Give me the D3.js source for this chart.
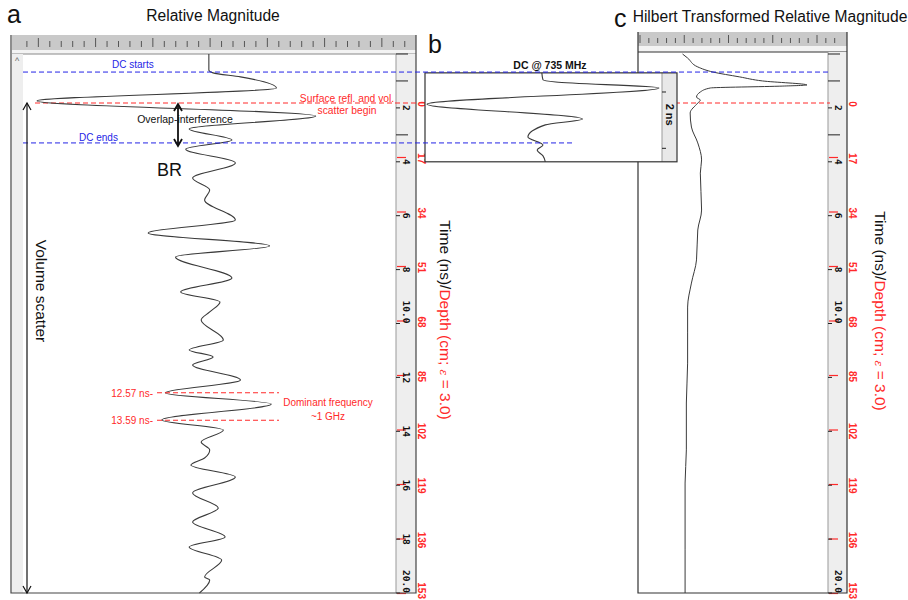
<!DOCTYPE html>
<html>
<head>
<meta charset="utf-8">
<script src="https://cdn.jsdelivr.net/npm/d3@7"></script>
<style>
body { margin: 0; background: #fff; }
svg { display: block; font-family: "Liberation Sans", Arial, sans-serif; }
</style>
</head>
<body>
<svg id="canvas"></svg>
<script>
// Panel a: relative magnitude trace (time in ns, relative amplitude)
const traceATime = [0, 0.59, 0.70, 0.85, 1.26, 1.74, 2.30, 2.78, 3.19, 3.53, 4.04, 4.60, 5.05, 5.42, 6.16, 6.64, 7.12, 7.53, 8.31, 8.83, 9.20, 9.57, 9.87, 10.61, 10.98, 11.24, 11.54, 12.10, 12.58, 12.99, 13.58, 13.95, 14.40, 14.69, 14.99, 15.25, 15.70, 16.29, 16.85, 17.37, 17.92, 18.29, 18.78, 19.41, 19.52, 20.00];
const traceAAmp = [0.005, 0.005, 0.03, 0.19, 0.40, -1.00, 0.63, -0.11, 0.14, -0.13, 0.16, -0.09, 0.01, -0.02, 0.16, -0.35, 0.36, -0.19, 0.14, -0.16, 0.07, 0.01, -0.04, 0.09, -0.11, 0.03, -0.09, 0.19, -0.25, 0.37, -0.27, 0.09, -0.04, 0.01, -0.02, -0.10, 0.16, -0.09, 0.06, -0.09, 0.10, -0.11, 0.08, -0.02, 0.01, -0.05];

// Panel b: DC @ 735 MHz inset
const traceBTime = [0.70, 0.96, 1.04, 1.26, 1.86, 2.41, 2.63, 3.08, 3.38, 3.56, 3.78, 4.00];
const traceBAmp = [-0.01, 0.0, 0.11, 1.0, -1.0, 0.34, 0.02, -0.13, 0.0, -0.05, 0.0, 0.02];

// Panel c: Hilbert transformed magnitude
const traceCTime = [0, 0.15, 0.48, 0.67, 0.85, 1.00, 1.15, 1.19, 1.26, 1.41, 1.60, 1.71, 1.82, 2.19, 2.71, 3.30, 3.93, 4.42, 5.79, 6.53, 7.64, 8.50, 9.39, 10.35, 11.47, 12.95, 14.69, 15.92, 18.40, 20.00];
const traceCAmp = [0.02, 0.06, 0.14, 0.26, 0.47, 0.65, 1.00, 0.81, 0.24, 0.16, 0.13, 0.16, 0.14, 0.08, 0.09, 0.14, 0.17, 0.16, 0.17, 0.14, 0.13, 0.09, 0.06, 0.06, 0.06, 0.05, 0.05, 0.04, 0.04, 0.04];

// Axis ticks
const timeTicks = [2, 4, 6, 8, 10, 12, 14, 16, 18, 20];
const timeTickLabels = ["2", "4", "6", "8", "10.0", "12", "14", "16", "18", "20.0"];
const timeTicksLabelledC = [2, 4, 6, 8, 10, 20];
const longTimeTicks = [0, 1, 3];
const depthTicks = [0, 17, 34, 51, 68, 85, 102, 119, 136, 153];

// Annotation times (ns)
const dcStart = 0.67, dcEnd = 3.30;
const dominantTimes = [12.57, 13.59];

const width = 908;
const height = 600;

const svg = d3.select("#canvas")
    .attr("width", width)
    .attr("height", height);

const red = "#ff2a2a";
const blue = "#2424e6";

const yTime = d3.scaleLinear().domain([0, 20]).range([54, 593]);
const yDepth = d3.scaleLinear().domain([0, 153]).range([103, 593.5]);
const xA = d3.scaleLinear().domain([-1, 1]).range([37, 379]);
const xB = d3.scaleLinear().domain([-1, 1]).range([427, 659]);
const xC = d3.scaleLinear().domain([0, 1]).range([680, 807]);

const ptsA = traceATime.map((t, i) => ({ t: t, a: traceAAmp[i] }));
const ptsB = traceBTime.map((t, i) => ({ t: t, a: traceBAmp[i] }));
const ptsC = traceCTime.map((t, i) => ({ t: t, a: traceCAmp[i] }));

function drawRuler(x0, x1, y0, y1, first, step, majorOffset) {
    svg.append("rect")
        .attr("x", x0).attr("y", y0)
        .attr("width", x1 - x0).attr("height", y1 - y0)
        .attr("fill", "#c9c9c9");
    const ticks = d3.range(first, x1 - 4, step);
    svg.append("g").selectAll("line")
        .data(ticks)
        .join("line")
        .attr("x1", d => d).attr("x2", d => d)
        .attr("y1", (d, i) => (i - majorOffset) % 5 === 0 ? y0 + 3 : y0 + 6)
        .attr("y2", y1 - 3)
        .attr("stroke", "#555")
        .attr("stroke-width", 1);
}

function drawStrip(xl, xr, yTop, labelled) {
    svg.append("rect")
        .attr("x", xl).attr("y", yTop)
        .attr("width", xr - xl).attr("height", 593 - yTop)
        .attr("fill", "#eeeeee");
    svg.append("line")
        .attr("x1", xl).attr("x2", xl).attr("y1", yTop).attr("y2", 593)
        .attr("stroke", "#999");

    // long ticks near the top
    svg.append("g").selectAll("line")
        .data(longTimeTicks)
        .join("line")
        .attr("x1", xl).attr("x2", xl + 12)
        .attr("y1", d => yTime(d)).attr("y2", d => yTime(d))
        .attr("stroke", "#222");

    // red depth ticks
    svg.append("g").selectAll("line")
        .data(depthTicks.slice(1))
        .join("line")
        .attr("x1", xl + 1).attr("x2", xl + 10)
        .attr("y1", d => yDepth(d)).attr("y2", d => yDepth(d))
        .attr("stroke", red).attr("stroke-width", 1.2);

    // black time ticks
    svg.append("g").selectAll("line")
        .data(timeTicks)
        .join("line")
        .attr("x1", xl).attr("x2", xl + 4)
        .attr("y1", d => yTime(d)).attr("y2", d => yTime(d))
        .attr("stroke", "#222");

    // time labels
    svg.append("g").selectAll("text")
        .data(timeTicks.map((t, i) => ({ t: t, label: timeTickLabels[i] })).filter(d => labelled.includes(d.t)))
        .join("text")
        .attr("transform", d => `translate(${xl + 10},${yTime(d.t)}) rotate(90)`)
        .attr("dy", "0.35em")
        .attr("text-anchor", d => d.label.includes(".") ? "end" : "middle")
        .attr("font-family", "DejaVu Sans Mono")
        .attr("font-size", 9.5)
        .attr("font-weight", "bold")
        .attr("fill", "#111")
        .text(d => d.label);

    // red depth labels (last one kept inside the picture)
    svg.append("g").selectAll("text")
        .data(depthTicks)
        .join("text")
        .attr("transform", d => d === 153
            ? `translate(${xr + 5},599) rotate(90)`
            : `translate(${xr + 5},${yDepth(d) + 1}) rotate(90)`)
        .attr("dy", "0.35em")
        .attr("text-anchor", d => d === 153 ? "end" : "middle")
        .attr("font-size", 10)
        .attr("font-weight", "bold")
        .attr("fill", red)
        .text(d => d);
}

function axisTitle(x, y) {
    const t = svg.append("text")
        .attr("transform", `translate(${x},${y}) rotate(90)`)
        .attr("dy", "0.35em")
        .attr("text-anchor", "middle")
        .attr("font-size", 15.5);
    t.append("tspan").attr("fill", "#111").text("Time (ns)/");
    t.append("tspan").attr("fill", red).text("Depth (cm; ");
    t.append("tspan").attr("fill", red).attr("font-style", "italic")
        .attr("font-family", "DejaVu Serif").attr("font-size", 11).text("ε");
    t.append("tspan").attr("fill", red).text(" = 3.0)");
}

function vArrow(x, y1, y2, sw) {
    const g = svg.append("g")
        .attr("stroke", "#111").attr("fill", "none").attr("stroke-width", sw);
    g.append("line").attr("x1", x).attr("x2", x).attr("y1", y1).attr("y2", y2);
    g.append("path").attr("d", `M${x - 4},${y1 + 7}L${x},${y1}L${x + 4},${y1 + 7}`);
    g.append("path").attr("d", `M${x - 4},${y2 - 7}L${x},${y2}L${x + 4},${y2 - 7}`);
}

function hDash(x1, x2, y, color) {
    svg.append("line")
        .attr("x1", x1).attr("x2", x2).attr("y1", y).attr("y2", y)
        .attr("stroke", color).attr("stroke-width", 1)
        .attr("stroke-dasharray", "5,3");
}

// ---------- Panel a frame ----------
drawRuler(12, 416, 35, 50, 26.9, 11.45, 1);
svg.append("rect").attr("x", 12).attr("y", 50).attr("width", 404).attr("height", 4).attr("fill", "#f3f3f3");
svg.append("line").attr("x1", 12).attr("x2", 416).attr("y1", 54).attr("y2", 54).attr("stroke", "#888");
svg.append("rect").attr("x", 12).attr("y", 54).attr("width", 11).attr("height", 539).attr("fill", "#eeeeee");
svg.append("text").attr("x", 17).attr("y", 64).attr("text-anchor", "middle")
    .attr("font-size", 9).attr("fill", "#666").text("^");
drawStrip(396, 416, 54, timeTicks);
svg.append("path")
    .attr("d", "M11,35V593H416V35")
    .attr("fill", "none").attr("stroke", "#444").attr("stroke-width", 1.2);

// ---------- Panel c frame ----------
drawRuler(638, 847, 32, 46, 640, 8.85, 0);
svg.append("rect").attr("x", 638).attr("y", 46).attr("width", 209).attr("height", 6).attr("fill", "#f3f3f3");
svg.append("line").attr("x1", 638).attr("x2", 847).attr("y1", 52).attr("y2", 52).attr("stroke", "#333");
drawStrip(828, 847, 52, timeTicksLabelledC);
svg.append("path")
    .attr("d", "M638,32V593H847V32")
    .attr("fill", "none").attr("stroke", "#333").attr("stroke-width", 1.2);

// surface reflection line (a through c)
hDash(35, 830, yDepth(0), red);

// ---------- Traces a and c ----------
const lineA = d3.line().x(d => xA(d.a)).y(d => yTime(d.t)).curve(d3.curveMonotoneY);
svg.append("path").datum(ptsA)
    .attr("d", lineA)
    .attr("fill", "none").attr("stroke", "#3a3a3a").attr("stroke-width", 1.1);

const lineC = d3.line().x(d => xC(d.a)).y(d => yTime(d.t)).curve(d3.curveMonotoneY);
svg.append("path").datum(ptsC)
    .attr("d", lineC)
    .attr("fill", "none").attr("stroke", "#3a3a3a").attr("stroke-width", 1);

// ---------- Panel b inset ----------
const bTop = yTime(0.70), bBot = yTime(4.0);
svg.append("rect")
    .attr("x", 425).attr("y", bTop).attr("width", 252).attr("height", bBot - bTop)
    .attr("fill", "#fff");
svg.append("rect")
    .attr("x", 662).attr("y", bTop).attr("width", 15).attr("height", bBot - bTop)
    .attr("fill", "#e8e8e8");
svg.append("line").attr("x1", 662).attr("x2", 662).attr("y1", bTop).attr("y2", bBot).attr("stroke", "#999");
svg.append("g").selectAll("line")
    .data([1.41, 3.5])
    .join("line")
    .attr("x1", 662).attr("x2", 666)
    .attr("y1", d => yTime(d)).attr("y2", d => yTime(d))
    .attr("stroke", "#222");
svg.append("text")
    .attr("transform", `translate(670,${yTime(2.25)}) rotate(90)`)
    .attr("dy", "0.35em").attr("text-anchor", "middle")
    .attr("font-size", 11).attr("font-weight", "bold").attr("fill", "#111")
    .text("2 ns");
const lineB = d3.line().x(d => xB(d.a)).y(d => yTime(d.t)).curve(d3.curveMonotoneY);
svg.append("path").datum(ptsB)
    .attr("d", lineB)
    .attr("fill", "none").attr("stroke", "#3a3a3a").attr("stroke-width", 1.1);
svg.append("rect")
    .attr("x", 425).attr("y", bTop).attr("width", 252).attr("height", bBot - bTop)
    .attr("fill", "none").attr("stroke", "#333").attr("stroke-width", 1.2);
svg.append("text").attr("x", 550).attr("y", 69).attr("text-anchor", "middle")
    .attr("font-size", 10.5).attr("font-weight", "bold").attr("fill", "#111")
    .text("DC @ 735 MHz");

// ---------- DC lines ----------
hDash(23, 830, yTime(dcStart), blue);
hDash(23, 575, yTime(dcEnd), blue);
svg.append("text").attr("x", 112).attr("y", 68).attr("font-size", 10).attr("fill", blue).text("DC starts");
svg.append("text").attr("x", 79).attr("y", 141).attr("font-size", 10).attr("fill", blue).text("DC ends");

// ---------- Panel a annotations ----------
svg.append("text").attr("x", 347).attr("y", 102).attr("text-anchor", "middle")
    .attr("font-size", 10.3).attr("fill", red).text("Surface refl. and vol.");
svg.append("text").attr("x", 347).attr("y", 114).attr("text-anchor", "middle")
    .attr("font-size", 10.3).attr("fill", red).text("scatter begin");

vArrow(178, yDepth(0) + 1, yTime(dcEnd) + 3, 1.8);
svg.append("text").attr("x", 185).attr("y", 123).attr("text-anchor", "middle")
    .attr("font-size", 10.5).attr("fill", "#111").text("Overlap-interference");

svg.append("text").attr("x", 157).attr("y", 176)
    .attr("font-size", 18).attr("fill", "#111").text("BR");

vArrow(27, yDepth(0), yDepth(153) - 0.5, 1.2);
svg.append("text")
    .attr("transform", "translate(41,291) rotate(90)")
    .attr("dy", "0.35em").attr("text-anchor", "middle")
    .attr("font-size", 15.5).attr("fill", "#111")
    .text("Volume scatter");

dominantTimes.forEach(t => {
    hDash(157, 279, yTime(t), red);
    svg.append("text").attr("x", 153).attr("y", yTime(t) + 4).attr("text-anchor", "end")
        .attr("font-size", 10).attr("fill", red).text(`${t.toFixed(2)} ns-`);
});
svg.append("text").attr("x", 328).attr("y", 406).attr("text-anchor", "middle")
    .attr("font-size", 10).attr("fill", red).text("Dominant frequency");
svg.append("text").attr("x", 328).attr("y", 420).attr("text-anchor", "middle")
    .attr("font-size", 10).attr("fill", red).text("~1 GHz");

// ---------- Titles ----------
axisTitle(445, 320);
axisTitle(880, 311);

svg.append("text").attr("x", 7).attr("y", 23).attr("font-size", 25).attr("fill", "#111").text("a");
svg.append("text").attr("x", 213).attr("y", 21).attr("text-anchor", "middle")
    .attr("font-size", 15.6).attr("fill", "#111").text("Relative Magnitude");
svg.append("text").attr("x", 428).attr("y", 53).attr("font-size", 25).attr("fill", "#111").text("b");
svg.append("text").attr("x", 614).attr("y", 27).attr("font-size", 25).attr("fill", "#111").text("c");
svg.append("text").attr("x", 770).attr("y", 22).attr("text-anchor", "middle")
    .attr("font-size", 15.6).attr("fill", "#111").text("Hilbert Transformed Relative Magnitude");
</script>
</body>
</html>
